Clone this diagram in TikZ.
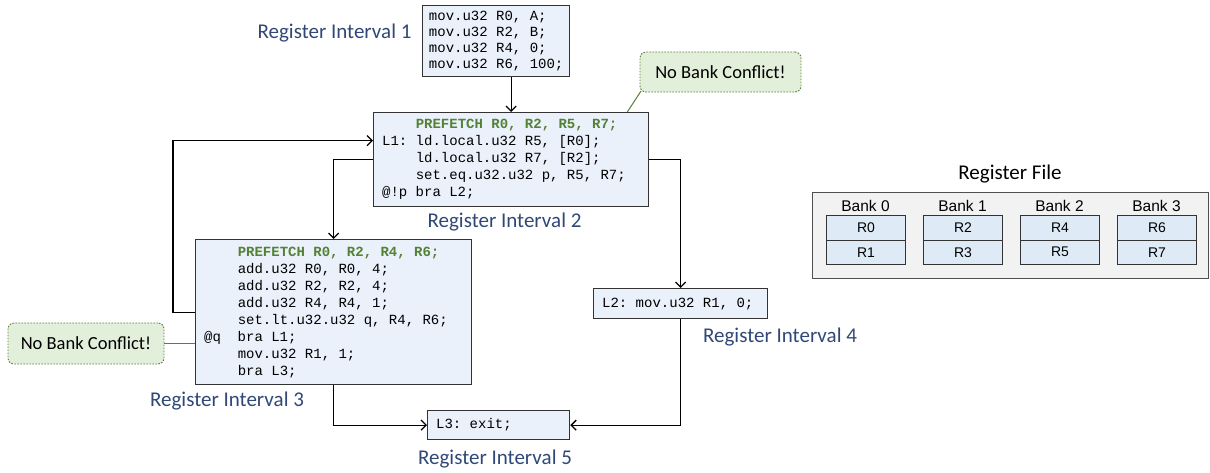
\documentclass[tikz,border=0pt]{standalone}
\usepackage{fontspec}
\setmainfont{Carlito}
\newfontfamily\codefont{Liberation Mono}
\newfontfamily\arialfont{Liberation Sans}
\usetikzlibrary{arrows.meta}
\definecolor{boxfill}{HTML}{EAF1FB}
\definecolor{boxline}{HTML}{333333}
\definecolor{labcol}{HTML}{2F4878}
\definecolor{pgreen}{HTML}{548235}
\definecolor{callfill}{HTML}{E2EFDA}
\definecolor{callline}{HTML}{5A7F3A}
\definecolor{rffill}{HTML}{F2F2F2}
\definecolor{rfline}{HTML}{505050}
\definecolor{cellfill}{HTML}{DEEBF7}
\newcommand\cpre[1]{\makebox[33.6pt][l]{#1}}
\newcommand\pf[1]{{\bfseries\color{pgreen}#1}}
\newcommand\codesetup{\codefont\frenchspacing\spaceskip=8.4pt\relax\xspaceskip=8.4pt\relax}
\begin{document}
\begin{tikzpicture}[x=1pt,y=-1pt,
  codebox/.style={draw=boxline, fill=boxfill, line width=1.3pt, inner xsep=8.5pt, inner ysep=0pt,
    align=left, anchor=north west, font=\fontsize{14}{17}\selectfont\codesetup},
  lab/.style={font=\fontsize{21}{24}\selectfont, text=labcol, inner sep=0pt},
  arr/.style={draw=black, line width=1.3pt, -{Straight Barb[length=5pt,width=10pt,line width=1.3pt]}},
  callout/.style={draw=callline, fill=callfill, line width=0.9pt, dash pattern=on 1.6pt off 1.4pt,
    rounded corners=6pt, font=\fontsize{18.5}{21}\selectfont, inner sep=0pt},
  cline/.style={draw=callline, line width=1pt},
  rfcell/.style={draw=boxline, fill=cellfill, line width=0.9pt, minimum width=79pt, minimum height=24.5pt,
    inner sep=0pt, anchor=north west, font=\arialfont\fontsize{14}{16}\selectfont},
  banklab/.style={font=\arialfont\fontsize{15.5}{18}\selectfont, inner sep=0pt}
]
\useasboundingbox (0,0) rectangle (1210,472);

% code blocks
\node[codebox, minimum width=147pt, minimum height=71pt, inner xsep=6.3pt,
  font=\fontsize{14}{16}\selectfont\codesetup] (b1) at (422,5)
  {mov.u32 R0, A;\\mov.u32 R2, B;\\mov.u32 R4, 0;\\mov.u32 R6, 100;};
\node[codebox, minimum width=275pt, minimum height=94pt, text width=258pt] (b2) at (373,112)
  {\codesetup\cpre{}\pf{PREFETCH R0, R2, R5, R7;}\\
   \cpre{L1:}ld.local.u32 R5, [R0];\\
   \cpre{}ld.local.u32 R7, [R2];\\
   \cpre{}set.eq.u32.u32 p, R5, R7;\\
   \cpre{@!p}bra L2;};
\node[codebox, minimum width=276pt, minimum height=145pt, text width=259pt] (b3) at (195,239)
  {\codesetup\cpre{}\pf{PREFETCH R0, R2, R4, R6;}\\
   \cpre{}add.u32 R0, R0, 4;\\
   \cpre{}add.u32 R2, R2, 4;\\
   \cpre{}add.u32 R4, R4, 1;\\
   \cpre{}set.lt.u32.u32 q, R4, R6;\\
   \cpre{@q}bra L1;\\
   \cpre{}mov.u32 R1, 1;\\
   \cpre{}bra L3;};
\node[codebox, minimum width=174pt, minimum height=30pt, text width=157pt] (b4) at (593,288)
  {\codesetup L2: mov.u32 R1, 0;};
\node[codebox, minimum width=142pt, minimum height=29pt, text width=125pt] (b5) at (427,410)
  {\codesetup L3: exit;};

% labels
\node[lab] (l1) at (334.5,33) {Register Interval 1};
\node[lab] (l2) at (504.5,222) {Register Interval 2};
\node[lab] (l3) at (227,401) {Register Interval 3};
\node[lab] (l4) at (780,337) {Register Interval 4};
\node[lab] (l5) at (495,459) {Register Interval 5};

% callouts
\node[callout, minimum width=161pt, minimum height=40pt] (c1) at (720.5,72) {No Bank Conflict!};
\node[callout, minimum width=156pt, minimum height=41pt] (c2) at (86,343.5) {No Bank Conflict!};
\draw[cline] ([xshift=-22pt]b2.north east) -- ([shift={(1.5pt,1.5pt)}]c1.south west);
\draw[cline] (c2.east) -- (c2.east -| b3.west);

% connectors
\draw[arr] (b2.north |- b1.south) -- (b2.north);
\draw[arr] (b3.west) -- ++(-22,0) |- ([yshift=19pt]b2.west);
\draw[arr] (b2.west) -| (b3.north);
\draw[arr] (b2.east) -| (b4.north);
\draw[arr] (b4.south) |- (b5.east);
\draw[arr] (b3.south) |- (b5.west);

% register file
\node[font=\fontsize{21}{24}\selectfont, inner sep=0pt] (rft) at (1010,174) {Register File};
\node[draw=rfline, fill=rffill, line width=1.1pt, minimum width=396pt, minimum height=86pt,
  anchor=north west, inner sep=0pt] (rf) at (812,192) {};
\foreach \i/\x in {0/826,1/923,2/1020,3/1117}{
  \node[banklab] (bank\i) at (\x+39.5,206) {Bank \i};
}
\node[rfcell] (r0) at (826,215) {R0};
\node[rfcell] (r1) at (826,239.5) {R1};
\node[rfcell] (r2) at (923,215) {R2};
\node[rfcell] (r3) at (923,239.5) {R3};
\node[rfcell] (r4) at (1020,215) {R4};
\node[rfcell] (r5) at (1020,239.5) {R5};
\node[rfcell] (r6) at (1117,215) {R6};
\node[rfcell] (r7) at (1117,239.5) {R7};
\end{tikzpicture}
\end{document}
